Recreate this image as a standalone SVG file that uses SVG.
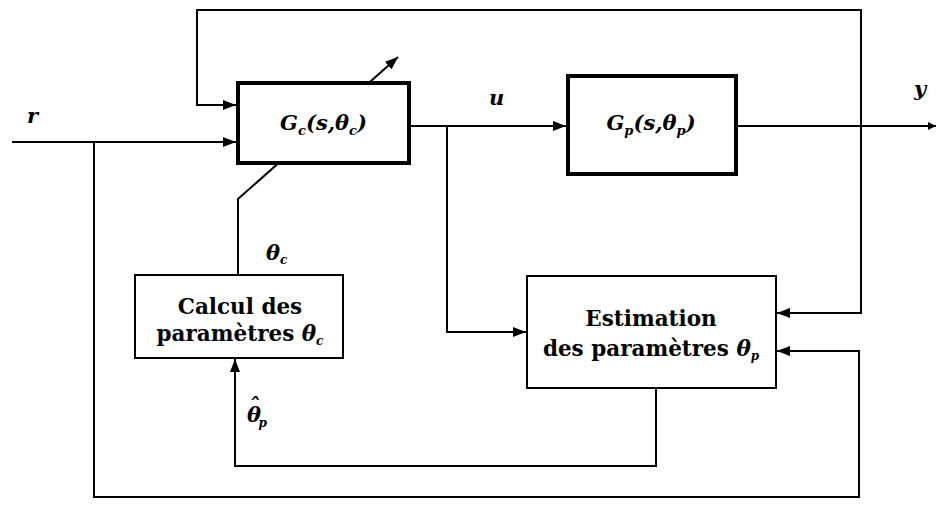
<svg xmlns="http://www.w3.org/2000/svg" width="938" height="507" viewBox="0 0 938 507">
<style>
.ln{fill:none;stroke:#000;stroke-width:2}
.thin{fill:#fff;stroke:#000;stroke-width:2}
.thick{fill:#fff;stroke:#000;stroke-width:4}
.bt{font-family:"DejaVu Serif",serif;font-weight:bold;font-size:21.5px;fill:#000}
.m{font-family:"DejaVu Serif",serif;font-weight:bold;font-style:italic;font-size:21px;fill:#000}
.it{font-style:italic}
</style>
<defs>
<marker id="ah" markerUnits="userSpaceOnUse" markerWidth="14" markerHeight="11" refX="13" refY="5" orient="auto">
<path d="M0,0 L13,5 L0,10 Z" fill="#000"/>
</marker>
<marker id="sm" markerUnits="userSpaceOnUse" markerWidth="9" markerHeight="8" refX="8" refY="4" orient="auto">
<path d="M0,0 L8,4 L0,8 Z" fill="#000"/>
</marker>
</defs>
<g id="connectors">
<path class="ln" d="M238,275 V199 L398,57" marker-end="url(#ah)"/>
<path class="ln" d="M861,126 V10 H197 V105 H236" marker-end="url(#ah)"/>
<path class="ln" d="M861,126 V313 H777" marker-end="url(#ah)"/>
<path class="ln" d="M12,142 H236" marker-end="url(#ah)"/>
<path class="ln" d="M94,142 V497 H859 V351 H777" marker-end="url(#ah)"/>
<path class="ln" d="M409,126 H566" marker-end="url(#ah)"/>
<path class="ln" d="M447,126 V332 H526" marker-end="url(#ah)"/>
<path class="ln" d="M736,126 H936" marker-end="url(#sm)"/>
<path class="ln" d="M656,388 V466 H235 V359" marker-end="url(#ah)"/>
</g>
<g id="Gc">
<rect class="thick" x="238" y="83" width="171" height="80"/>
<text class="m" x="323.5" y="130" text-anchor="middle">G<tspan font-size="13" dy="5">c</tspan><tspan dy="-5">(s,θ</tspan><tspan font-size="13" dy="5">c</tspan><tspan dy="-5">)</tspan></text>
</g>
<g id="Gp">
<rect class="thick" x="568" y="76" width="168" height="98"/>
<text class="m" x="651" y="130" text-anchor="middle">G<tspan font-size="13" dy="5">p</tspan><tspan dy="-5">(s,θ</tspan><tspan font-size="13" dy="5">p</tspan><tspan dy="-5">)</tspan></text>
</g>
<g id="calcul">
<rect class="thin" x="135" y="275" width="208" height="83"/>
<text class="bt" x="240" y="314" text-anchor="middle">Calcul des</text>
<text class="bt" x="240" y="341" text-anchor="middle">paramètres <tspan class="it">θ</tspan><tspan class="it" font-size="12" dy="4">c</tspan></text>
</g>
<g id="estimation">
<rect class="thin" x="527" y="276" width="249" height="112"/>
<text class="bt" x="651" y="326" text-anchor="middle">Estimation</text>
<text class="bt" x="651" y="356" text-anchor="middle">des paramètres <tspan class="it">θ</tspan><tspan class="it" font-size="12" dy="4">p</tspan></text>
</g>
<g id="labels">
<text class="m" x="27" y="123">r</text>
<text class="m" x="489" y="105">u</text>
<text class="m" x="914" y="96">y</text>
<text class="m" x="266" y="260">θ<tspan font-size="12" dy="4">c</tspan></text>
<text class="m" x="247" y="422">θ<tspan dx="-12" dy="-9">ˆ</tspan><tspan font-size="12" dx="-1" dy="14">p</tspan></text>
</g>
</svg>
